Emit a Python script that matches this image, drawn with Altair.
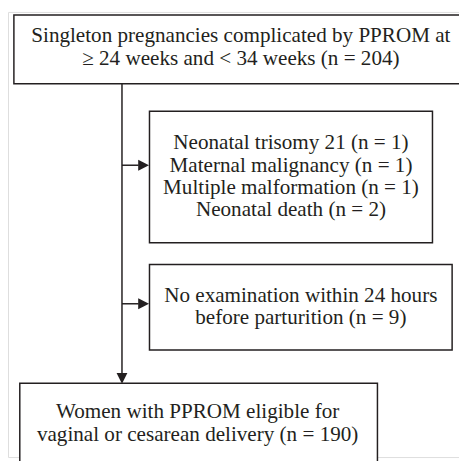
import altair as alt
import pandas as pd

# ---- Flowchart content ----
box_labels = [
    ["Singleton pregnancies complicated by PPROM at",
     "\u2265 24 weeks and < 34 weeks (n = 204)"],
    ["Neonatal trisomy 21 (n = 1)", "Maternal malignancy (n = 1)",
     "Multiple malformation (n = 1)", "Neonatal death (n = 2)"],
    ["No examination within 24 hours", "before parturition (n = 9)"],
    ["Women with PPROM eligible for", "vaginal or cesarean delivery (n = 190)"],
]
# layout (page pixel coordinates)
box_left = [14, 152, 152, 20]
box_right = [476, 440, 460, 384]
box_top = [11, 109, 265, 386]
box_bottom = [81, 243, 352, 472]
text_x = [245, 296, 306, 201]
first_baseline = [39, 147.7, 302.7, 421.7]
LINE_STEP = 22.7

# connector segments
seg_x1 = [124, 124, 124]
seg_x2 = [124, 141, 141]
seg_y1 = [81, 164, 305]
seg_y2 = [377, 164, 305]

# arrow heads
head_x = [146, 146, 124]
head_y = [164, 305, 381]
head_dir = ["right", "right", "down"]

INK = "#231f20"
FONT = "Liberation Serif"

boxes = pd.DataFrame({
    "x0": box_left, "x1": box_right, "y0": box_top, "y1": box_bottom,
})
text_rows = []
for lines_, tx, ty in zip(box_labels, text_x, first_baseline):
    for i, ln in enumerate(lines_):
        text_rows.append({"label": ln, "tx": tx, "ty": ty + i * LINE_STEP})
texts_df = pd.DataFrame(text_rows)
segs = pd.DataFrame({"x1": seg_x1, "x2": seg_x2, "y1": seg_y1, "y2": seg_y2})
heads = pd.DataFrame({"x": head_x, "y": head_y, "dir": head_dir})

xs = alt.Scale(domain=[8, 467], nice=False, zero=False)
ys = alt.Scale(domain=[8, 461], nice=False, zero=False, reverse=True)
noax = None

rects = alt.Chart(boxes).mark_rect(
    fill="white", stroke=INK, strokeWidth=1.5
).encode(
    x=alt.X("x0:Q", scale=xs, axis=noax), x2="x1:Q",
    y=alt.Y("y0:Q", scale=ys, axis=noax), y2="y1:Q",
)

texts = alt.Chart(texts_df).mark_text(
    font=FONT, fontSize=21.5, color=INK, align="center", baseline="alphabetic",
).encode(
    x=alt.X("tx:Q", scale=xs, axis=noax),
    y=alt.Y("ty:Q", scale=ys, axis=noax),
    text="label:N",
)

lines = alt.Chart(segs).mark_rule(color=INK, strokeWidth=1.5).encode(
    x=alt.X("x1:Q", scale=xs, axis=noax), x2="x2:Q",
    y=alt.Y("y1:Q", scale=ys, axis=noax), y2="y2:Q",
)

right_heads = alt.Chart(heads).transform_filter(alt.datum.dir == "right").mark_point(
    shape="M-1,-1L1,0L-1,1Z", filled=True, color=INK, opacity=1, size=121,
).encode(
    x=alt.X("x:Q", scale=xs, axis=noax), y=alt.Y("y:Q", scale=ys, axis=noax),
)
down_heads = alt.Chart(heads).transform_filter(alt.datum.dir == "down").mark_point(
    shape="M-1,-1L1,-1L0,1Z", filled=True, color=INK, opacity=1, size=121,
).encode(
    x=alt.X("x:Q", scale=xs, axis=noax), y=alt.Y("y:Q", scale=ys, axis=noax),
)

chart = alt.layer(rects, lines, right_heads, down_heads, texts).properties(
    width=459, height=453,
    padding=0,
    autosize=alt.AutoSizeParams(type="none"),
).configure_view(stroke=None).configure(background="white")

chart.save("out.html", embed_options={"renderer": "svg", "actions": False})
